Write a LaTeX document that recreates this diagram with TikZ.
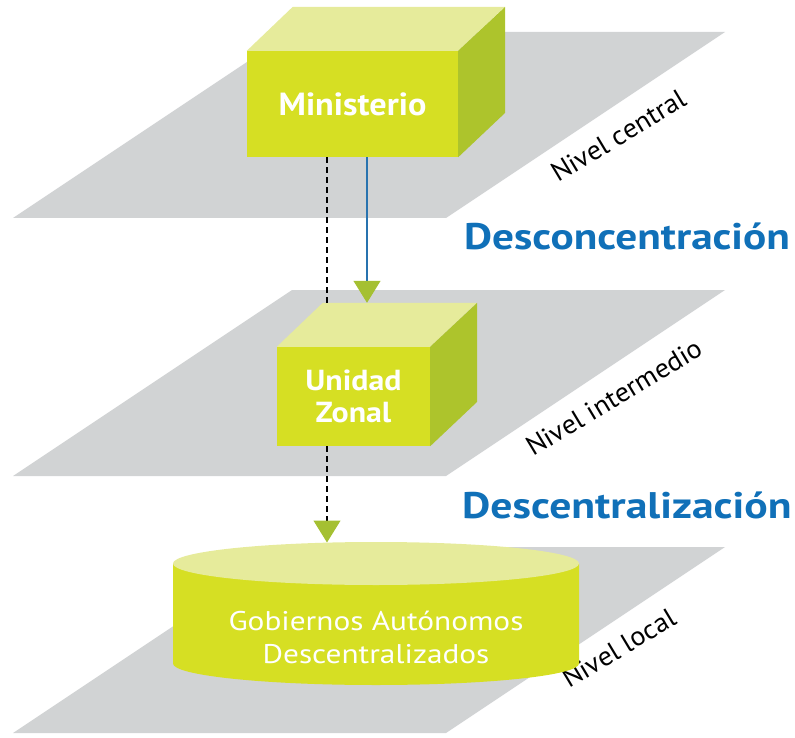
\documentclass[tikz,border=0pt]{standalone}
\usepackage{fontspec}
\usepackage{graphicx}
\setmainfont{PT Sans}
\usetikzlibrary{arrows.meta}
\newcommand{\stretchtext}[2]{\scalebox{#1}[1]{#2}}
\definecolor{planegray}{RGB}{209,211,212}
\definecolor{frontgreen}{RGB}{214,223,35}
\definecolor{topgreen}{RGB}{230,235,155}
\definecolor{sidegreen}{RGB}{173,196,44}
\definecolor{headblue}{RGB}{16,112,184}
\definecolor{linkblue}{RGB}{40,115,175}
\definecolor{tipgreen}{RGB}{165,192,50}
\tikzset{
  levelplane/.pic={\fill[planegray] (0,0) -- (279,-186) -- (712,-186) -- (433,0) -- cycle;},
  boxfront/.style={fill=frontgreen, inner sep=0pt, text=white, align=center,
    font=\bfseries\fontsize{32}{32}\selectfont},
  toptint/.style={fill=topgreen},
  sidetint/.style={fill=sidegreen},
  nivel/.style={anchor=base west, rotate=31, inner sep=0pt, text=black,
    font=\fontsize{27}{28}\selectfont},
  heading/.style={anchor=base west, inner sep=0pt, text=headblue,
    font=\bfseries\fontsize{37}{40}\selectfont},
  greentip/.style={-{Triangle[width=27pt,length=22pt,color=tipgreen]}},
  dashlink/.style={draw=black, line width=1.1pt, dash pattern=on 6pt off 4pt},
  bluelink/.style={draw=linkblue, line width=1.1pt},
}
\begin{document}
\begin{tikzpicture}[x=1pt,y=-1pt]
\useasboundingbox (0,0) rectangle (795,738);
% planes
\pic at (13,218) {levelplane};
\pic at (13,476) {levelplane};
\pic at (13,733) {levelplane};
% level labels
\node[nivel] (nc) at (558,183) {\stretchtext{1.04}{Nivel central}};
\node[nivel] (ni) at (533,457) {\stretchtext{1.04}{Nivel intermedio}};
\node[nivel] (nl) at (569,689) {\stretchtext{1.04}{Nivel local}};
\fill[white] (578,682) rectangle (795,738);
% headings
\node[heading] (desc) at (464,249) {\stretchtext{1.17}{Desconcentración}};
\node[heading] (dest) at (462,518) {\stretchtext{1.18}{Descentralización}};
% Ministerio cube
\node[boxfront, minimum width=211pt, minimum height=106pt] (min) at (352.5,104) {\stretchtext{1.07}{Ministerio}};
\fill[toptint] (min.north west) -- ++(46,-44) -- ++(212,0) -- (min.north east) -- cycle;
\fill[sidetint] (min.north east) -- ++(47,-44) -- ++(0,106) -- (min.south east) -- cycle;
% Unidad Zonal cube
\node[boxfront, minimum width=153pt, minimum height=99pt,
  font=\bfseries\fontsize{29}{32}\selectfont] (uni) at (353.5,396.5)
  {\stretchtext{1.1}{Unidad}\\\stretchtext{1.1}{Zonal}};
\fill[toptint] (uni.north west) -- ++(46,-44) -- ++(154,0) -- (uni.north east) -- cycle;
\fill[sidetint] (uni.north east) -- ++(47,-44) -- ++(0,99) -- (uni.south east) -- cycle;
% GAD cylinder
\fill[frontgreen] (173,563.5) -- (173,663.5) arc[start angle=180, end angle=0, x radius=203, y radius=21.5] -- (579,563.5) -- cycle;
\fill[toptint] (376,563.5) ellipse[x radius=203, y radius=21.5];
\node[text=white, align=center, inner sep=0pt, font=\fontsize{27}{33}\selectfont] (gad) at (376,637)
  {\stretchtext{1.16}{Gobiernos Autónomos}\\\stretchtext{1.16}{Descentralizados}};
\coordinate (gadtop) at (376,542.5);
% connectors
\coordinate (dx) at (327,0);
\coordinate (bx) at (367,0);
\coordinate (unb) at ([yshift=44pt]uni.north);
\draw[dashlink] (min.south -| dx) -- (unb -| dx);
\draw[bluelink, greentip] (min.south -| bx) -- (unb -| bx);
\draw[dashlink, greentip] (uni.south -| dx) -- (gadtop -| dx);
\end{tikzpicture}
\end{document}
